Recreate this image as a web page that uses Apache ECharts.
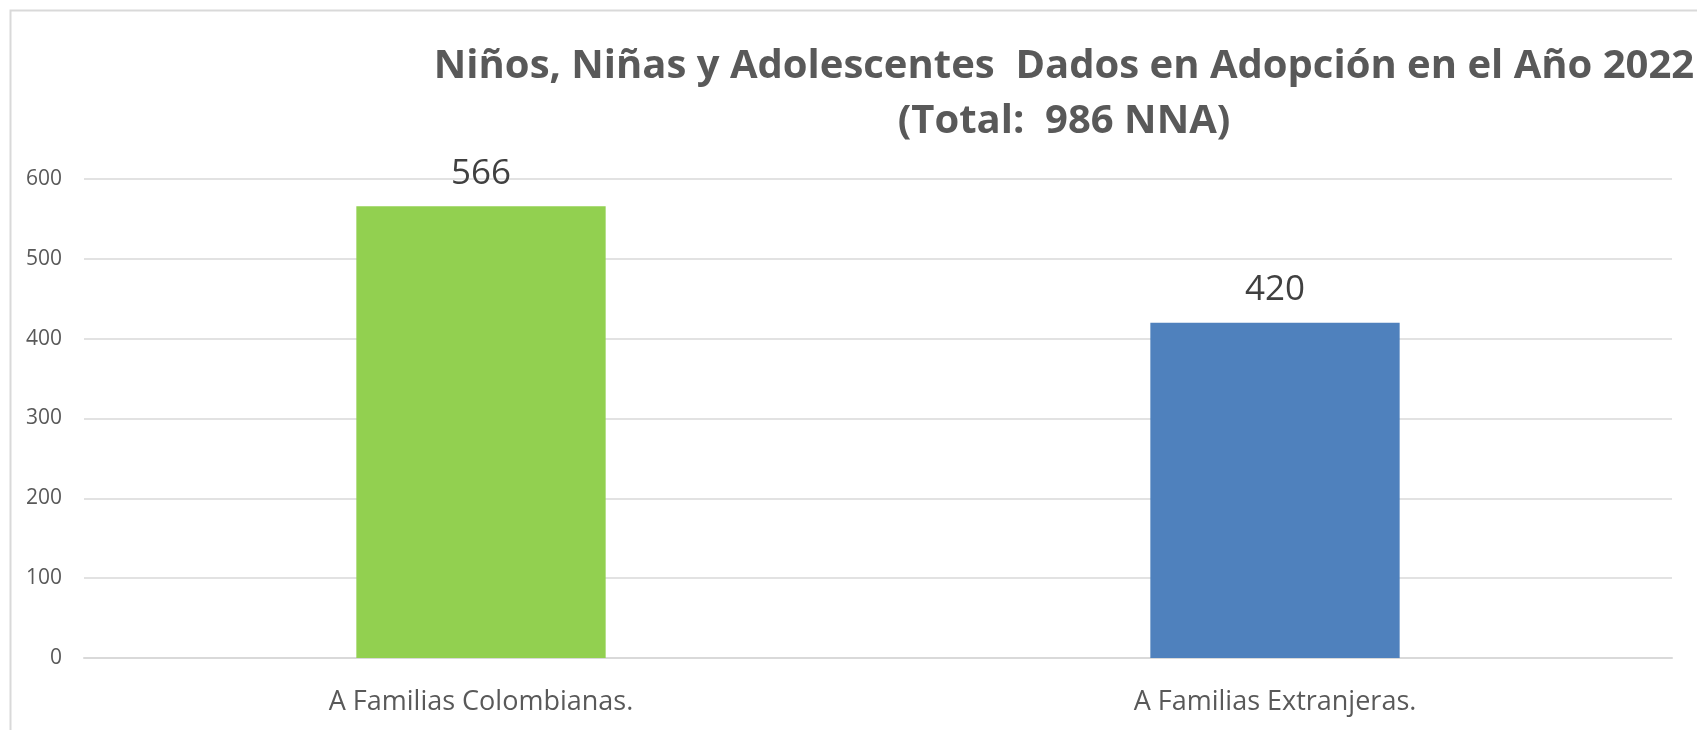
<!DOCTYPE html>
<html>
<head>
<meta charset="utf-8">
<script src="https://cdn.jsdelivr.net/npm/echarts@6/dist/echarts.min.js"></script>
<style>
html,body{margin:0;padding:0;background:#fff;}
#chart{width:1697px;height:730px;}
</style>
</head>
<body>
<div id="chart"></div>
<script>
const titleLines = ['Niños, Niñas y Adolescentes  Dados en Adopción en el Año 2022', '(Total:  986 NNA)'];
const categories = ['A Familias Colombianas.', 'A Familias Extranjeras.'];
const values = [566, 420];
const barColors = ['#92d050', '#4f81bd'];
const yTicks = { min: 0, max: 600, interval: 100 };

const chart = echarts.init(document.getElementById('chart'), null, { renderer: 'canvas' });
chart.setOption({
  backgroundColor: '#ffffff',
  animation: false,
  graphic: [{
    type: 'rect', left: 8, top: 8, silent: true,
    shape: { width: 1800, height: 800 },
    style: { fill: 'none', stroke: '#d9d9d9', lineWidth: 2 }
  }],
  title: {
    text: titleLines.join('\n'),
    left: 1059, top: 34,
    textAlign: 'center',
    textStyle: {
      fontFamily: 'Open Sans', fontWeight: 'bold', fontSize: 40,
      color: '#595959', lineHeight: 55
    }
  },
  grid: { left: 84, right: 25, top: 179, bottom: 72 },
  xAxis: {
    type: 'category', data: categories,
    axisLine: { lineStyle: { color: '#d9d9d9', width: 2 } },
    axisTick: { show: false },
    axisLabel: { color: '#595959', fontFamily: 'Open Sans', fontSize: 27, margin: 31 }
  },
  yAxis: {
    type: 'value', min: yTicks.min, max: yTicks.max, interval: yTicks.interval,
    axisLine: { show: false }, axisTick: { show: false },
    axisLabel: { color: '#595959', fontFamily: 'Open Sans', fontSize: 21, margin: 22 },
    splitLine: { lineStyle: { color: '#d9d9d9', width: 1.5 } }
  },
  series: [{
    type: 'bar', barWidth: '31.4%',
    data: values.map((v, i) => ({ value: v, itemStyle: { color: barColors[i] } })),
    label: {
      show: true, position: 'top', distance: 15,
      color: '#404040', fontFamily: 'Open Sans', fontSize: 35
    }
  }]
});
</script>
</body>
</html>
